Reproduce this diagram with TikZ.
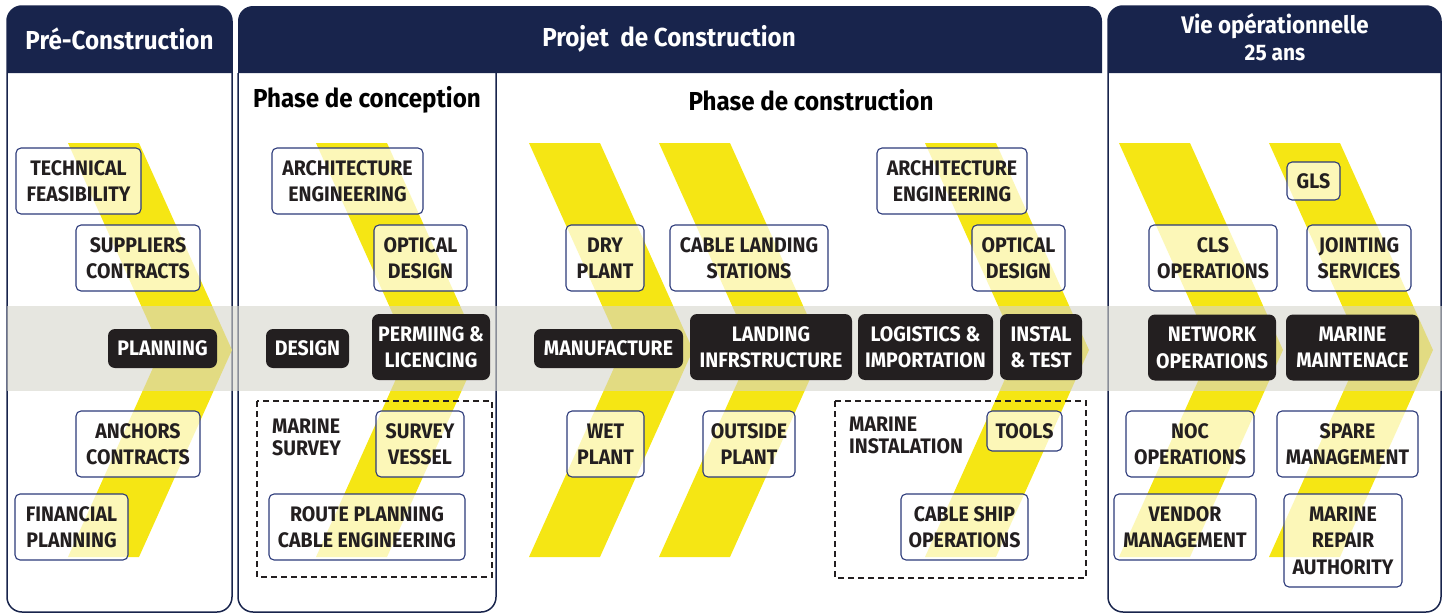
\documentclass[tikz,border=0pt]{standalone}
\usepackage{fontspec}
\setmainfont[FakeStretch=0.93]{Fira Sans}
\definecolor{navy}{RGB}{24,36,76}
\definecolor{boxnavy}{RGB}{44,58,122}
\definecolor{chevyellow}{RGB}{245,230,20}
\definecolor{bandgray}{RGB}{214,213,204}
\definecolor{ink}{RGB}{35,31,32}
\newcommand{\tagfont}{\bfseries\fontsize{21}{26.5}\selectfont}
\begin{document}
\begin{tikzpicture}[x=1pt,y=-1pt,
  panel/.style={draw=navy,line width=1.5pt,rounded corners=15pt},
  chev/.style={fill=chevyellow},
  band/.style={fill=bandgray,fill opacity=0.6},
  tag/.style={draw=boxnavy,line width=1.1pt,rounded corners=5pt,fill=white,fill opacity=0.7,text opacity=1,text=ink,font=\tagfont,align=center,inner sep=0pt,minimum height=66},
  darktag/.style={fill=ink,rounded corners=7pt,text=white,font=\tagfont,align=center,inner sep=0pt,minimum height=66},
  group/.style={draw=ink,dash pattern=on 6pt off 4pt,line width=1.3pt},
  title/.style={font=\bfseries\fontsize{26}{30}\selectfont,text=white},
  phase/.style={font=\bfseries\fontsize{26}{30}\selectfont,text=black},
  note/.style={font=\bfseries\fontsize{21}{22}\selectfont,text=ink,align=left,anchor=west,inner sep=0pt}]
\useasboundingbox (0,0) rectangle (1449,613);
%panels
\draw[panel] (7,6) rectangle (232,612);
\fill[navy] (7,73) [rounded corners=15pt] -- (7,6) -- (232,6) [sharp corners] -- (232,73) -- cycle;
\draw[panel] (238,73) -- (238,612) -- (496,612) -- (496,73);
\fill[navy] (238,73) [rounded corners=15pt] -- (238,6) -- (1102,6) [sharp corners] -- (1102,73) -- cycle;
\draw[panel] (1108,6) rectangle (1441,612);
\fill[navy] (1108,73) [rounded corners=15pt] -- (1108,6) -- (1441,6) [sharp corners] -- (1441,73) -- cycle;
%chevrons
\foreach \cx in {68,316,529,659,925,1119,1269}
  \fill[chev] (\cx,143) -- ++(71,0) -- ++(93,207) -- ++(-93,207) -- ++(-71,0) -- ++(93,-207) -- cycle;
\fill[band] (7,306) rectangle (1442,391);
%headers
\node[title] (pre) at (119.5,39) {Pré-Construction};
\node[title] (proj) at (669,39) {Projet\ \ de Construction};
\node[title,font=\bfseries\fontsize{24}{28}\selectfont] (vie) at (1275,26) {Vie opérationnelle};
\node[title,font=\bfseries\fontsize{22.5}{26}\selectfont] (ans) at (1275,53) {25 ans};
\node[phase] (conc) at (367,100) {Phase de conception};
\node[phase] (constr) at (811,100) {Phase de construction};
%pre-construction
\node[tag,minimum width=125] (techfeas) at (78.5,181) {TECHNICAL\\FEASIBILITY};
\node[tag,minimum width=124] (suppl) at (138,258) {SUPPLIERS\\CONTRACTS};
\node[darktag,minimum width=109,minimum height=39] (plan) at (162.5,348.5) {PLANNING};
\node[tag,minimum width=124] (anch) at (138,444) {ANCHORS\\CONTRACTS};
\node[tag,minimum width=113] (fin) at (71.5,527) {FINANCIAL\\PLANNING};
%phase de conception
\node[tag,minimum width=151] (arch) at (347.5,181) {ARCHITECTURE\\ENGINEERING};
\node[tag,minimum width=93] (optic) at (420.5,258) {OPTICAL\\DESIGN};
\node[darktag,minimum width=83,minimum height=39] (design) at (307.5,348.5) {DESIGN};
\node[darktag,minimum width=118] (perm) at (431,347) {PERMIING \&\\LICENCING};
\draw[group] (257,401) rectangle (492,577);
\node[note] (msurvey) at (272,437) {MARINE\\SURVEY};
\node[tag,minimum width=88] (vessel) at (420,444) {SURVEY\\VESSEL};
\node[tag,minimum width=196] (route) at (367,527) {ROUTE PLANNING\\CABLE ENGINEERING};
%phase de construction
\node[tag,minimum width=78] (dry) at (605,258) {DRY\\PLANT};
\node[tag,minimum width=158] (cls) at (749,258) {CABLE LANDING\\STATIONS};
\node[tag,minimum width=150] (arch2) at (952,181) {ARCHITECTURE\\ENGINEERING};
\node[tag,minimum width=93] (optic2) at (1018.5,258) {OPTICAL\\DESIGN};
\node[darktag,minimum width=149,minimum height=39] (manuf) at (608.5,348.5) {MANUFACTURE};
\node[darktag,minimum width=162] (landing) at (771,347) {LANDING\\INFRSTRUCTURE};
\node[darktag,minimum width=135] (logist) at (925.5,347) {LOGISTICS \&\\IMPORTATION};
\node[darktag,minimum width=82] (instal) at (1041,347) {INSTAL\\\& TEST};
\node[tag,minimum width=77] (wet) at (605.5,444) {WET\\PLANT};
\node[tag,minimum width=92] (outside) at (749,444) {OUTSIDE\\PLANT};
\draw[group] (835,401) rectangle (1086,578);
\node[note] (minst) at (849,435) {MARINE\\INSTALATION};
\node[tag,minimum width=75,minimum height=40] (tools) at (1024.5,431) {TOOLS};
\node[tag,minimum width=127] (ship) at (964.5,527) {CABLE SHIP\\OPERATIONS};
%vie operationnelle
\node[tag,minimum width=53,minimum height=38] (gls) at (1313.5,181) {GLS};
\node[tag,minimum width=128] (clsop) at (1213,258) {CLS\\OPERATIONS};
\node[tag,minimum width=104] (joint) at (1359,258) {JOINTING\\SERVICES};
\node[darktag,minimum width=128] (netop) at (1212,347.5) {NETWORK\\OPERATIONS};
\node[darktag,minimum width=133] (maint) at (1352.5,347.5) {MARINE\\MAINTENACE};
\node[tag,minimum width=128] (noc) at (1190,444) {NOC\\OPERATIONS};
\node[tag,minimum width=141] (spare) at (1347.5,444) {SPARE\\MANAGEMENT};
\node[tag,minimum width=142] (vendor) at (1185,527) {VENDOR\\MANAGEMENT};
\node[tag,minimum width=118,minimum height=93] (repair) at (1343,540.5) {MARINE\\REPAIR\\AUTHORITY};
\end{tikzpicture}
\end{document}
